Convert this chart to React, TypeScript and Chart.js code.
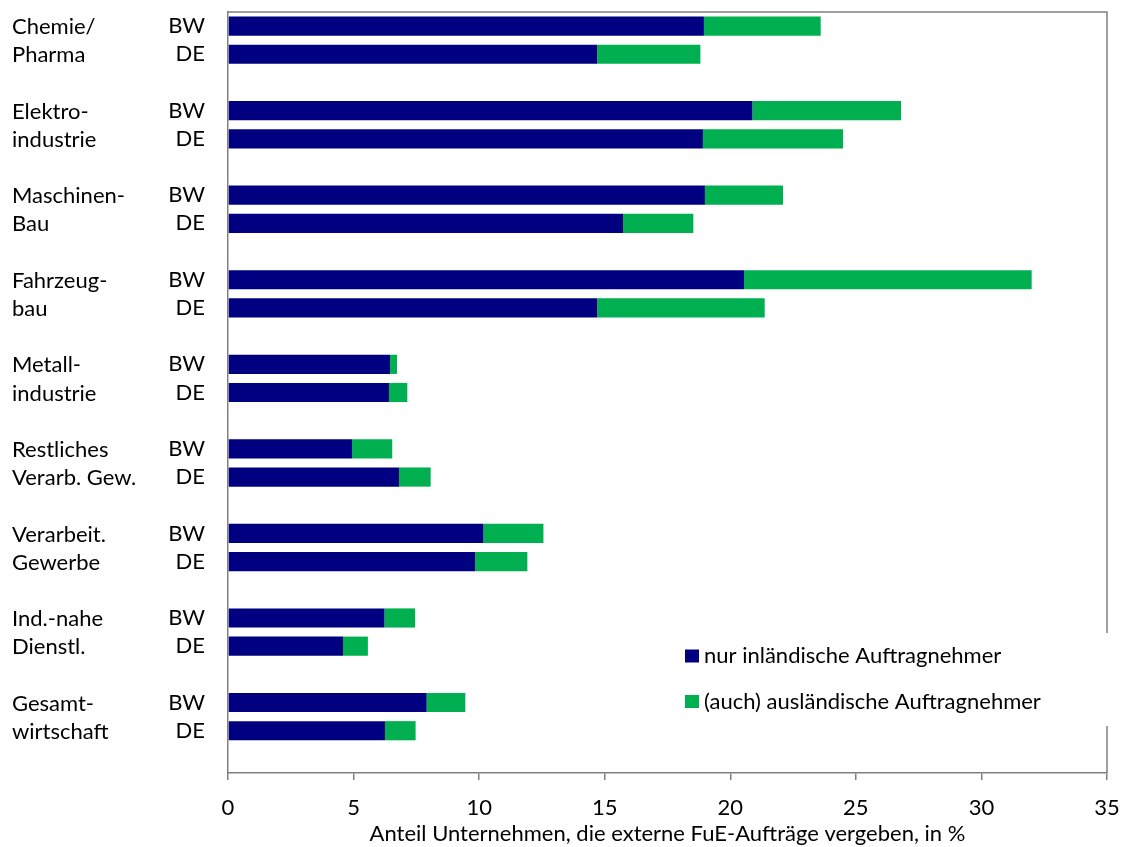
import React, { useEffect, useRef } from "react";
import { Chart, registerables } from "chart.js";

Chart.register(...registerables);

const groups: string[][] = [
  ["Chemie/", "Pharma"],
  ["Elektro-", "industrie"],
  ["Maschinen-", "Bau"],
  ["Fahrzeug-", "bau"],
  ["Metall-", "industrie"],
  ["Restliches", "Verarb. Gew."],
  ["Verarbeit.", "Gewerbe"],
  ["Ind.-nahe", "Dienstl."],
  ["Gesamt-", "wirtschaft"],
];
const regions = ["BW", "DE"];
const seriesNames = ["nur inländische Auftragnehmer", "(auch) ausländische Auftragnehmer"];
const domesticBW = [18.95, 20.88, 18.99, 20.55, 6.45, 4.94, 10.17, 6.23, 7.91];
const domesticDE = [14.7, 18.91, 15.73, 14.7, 6.41, 6.81, 9.84, 4.58, 6.25];
const foreignBW = [4.65, 5.92, 3.11, 11.45, 0.28, 1.6, 2.39, 1.22, 1.54];
const foreignDE = [4.11, 5.58, 2.8, 6.67, 0.73, 1.26, 2.08, 0.99, 1.22];
const xTicks = [0, 5, 10, 15, 20, 25, 30, 35];
const xTitle = "Anteil Unternehmen, die externe FuE-Aufträge vergeben, in %";

const BLUE = "#000080";
const GREEN = "#00B050";
const AXIS = "#808080";
const FONT = "Lato";
const FS = 22;

export default function App() {
  const ref = useRef<HTMLCanvasElement | null>(null);
  useEffect(() => {
    document.body.style.margin = "0";
    const labels: string[] = [];
    const dom: (number | null)[] = [];
    const frn: (number | null)[] = [];
    groups.forEach((_, i) => {
      labels.push(regions[0]);
      dom.push(domesticBW[i]);
      frn.push(foreignBW[i]);
      labels.push(regions[1]);
      dom.push(domesticDE[i]);
      frn.push(foreignDE[i]);
      labels.push("");
      dom.push(null);
      frn.push(null);
    });

    const decor = {
      id: "decor",
      afterDraw(chart: any) {
        const ctx = chart.ctx;
        const a = chart.chartArea;
        const y = chart.scales.y;
        ctx.save();
        ctx.strokeStyle = AXIS;
        ctx.lineWidth = 1.5;
        ctx.beginPath();
        ctx.moveTo(a.left, a.top);
        ctx.lineTo(a.right, a.top);
        ctx.lineTo(a.right, a.bottom);
        ctx.stroke();
        ctx.fillStyle = "#000";
        ctx.font = `${FS}px ${FONT}`;
        ctx.textAlign = "left";
        ctx.textBaseline = "middle";
        groups.forEach((g, i) => {
          ctx.fillText(g[0], 12, y.getPixelForValue(i * 3) + 1);
          ctx.fillText(g[1], 12, y.getPixelForValue(i * 3 + 1) + 1);
        });
        ctx.fillStyle = "#fff";
        ctx.fillRect(a.right - 10, 633, 20, 93);
        const colors = [BLUE, GREEN];
        const ly = [656, 701.5];
        seriesNames.forEach((n, i) => {
          ctx.fillStyle = colors[i];
          ctx.fillRect(685, ly[i] - 6.5, 14, 13);
          ctx.fillStyle = "#000";
          ctx.fillText(n, 704, ly[i]);
        });
        ctx.restore();
      },
    };

    const chart = new Chart(ref.current as HTMLCanvasElement, {
      type: "bar",
      data: {
        labels,
        datasets: [
          { label: seriesNames[0], data: dom, backgroundColor: BLUE, barPercentage: 0.68, categoryPercentage: 1 },
          { label: seriesNames[1], data: frn, backgroundColor: GREEN, barPercentage: 0.68, categoryPercentage: 1 },
        ],
      },
      options: {
        indexAxis: "y",
        animation: false,
        responsive: true,
        maintainAspectRatio: false,
        layout: { padding: { top: 12, right: 15, left: 0, bottom: 0 } },
        plugins: { legend: { display: false }, tooltip: { enabled: false } },
        scales: {
          x: {
            type: "linear",
            stacked: true,
            min: 0,
            max: 35,
            afterBuildTicks: (s: any) => {
              s.ticks = xTicks.map((v) => ({ value: v }));
            },
            afterFit: (s: any) => {
              s.height = 74;
              s.paddingLeft = 0;
              s.paddingRight = 0;
            },
            grid: { display: true, drawOnChartArea: false, drawTicks: true, tickLength: 7, color: AXIS, lineWidth: 1.5 },
            border: { display: true, color: AXIS, width: 1.5 },
            ticks: { color: "#000", font: { family: FONT, size: FS }, padding: 15, maxRotation: 0 },
            title: { display: true, text: xTitle, color: "#000", font: { family: FONT, size: FS }, padding: { top: 0, bottom: 0 } },
          },
          y: {
            type: "category",
            stacked: true,
            afterFit: (s: any) => {
              s.width = 228;
              s.paddingTop = 0;
              s.paddingBottom = 0;
            },
            grid: { display: false },
            border: { display: true, color: AXIS, width: 1.5 },
            ticks: { color: "#000", font: { family: FONT, size: FS }, padding: 15, autoSkip: false },
          },
        },
      },
      plugins: [decor],
    } as any);
    return () => chart.destroy();
  }, []);
  return (
    <div style={{ width: 1122, height: 847, position: "relative" }}>
      <canvas ref={ref} />
    </div>
  );
}
